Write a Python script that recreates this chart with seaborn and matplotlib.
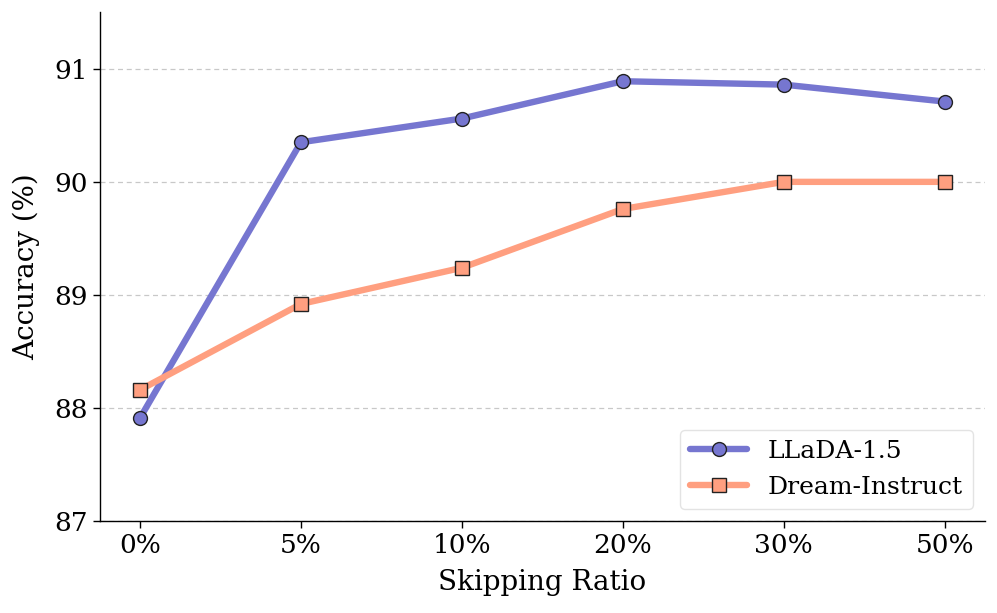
import matplotlib
matplotlib.use("Agg")
import matplotlib.pyplot as plt
import seaborn as sns
import pandas as pd

ratios = ["0%", "5%", "10%", "20%", "30%", "50%"]
llada = [87.91, 90.35, 90.56, 90.89, 90.86, 90.71]
dream = [88.16, 88.92, 89.24, 89.76, 90.00, 90.00]
series_names = ["LLaDA-1.5", "Dream-Instruct"]
yticks = [87, 88, 89, 90, 91]

sns.set_style("ticks")
plt.rcParams['font.family'] = ['DejaVu Serif']
plt.rcParams['text.color'] = 'black'
plt.rcParams['axes.labelcolor'] = 'black'
plt.rcParams['xtick.color'] = 'black'
plt.rcParams['ytick.color'] = 'black'

df = pd.DataFrame({
    "x": list(range(len(ratios))) * 2,
    "acc": llada + dream,
    "model": [series_names[0]] * len(ratios) + [series_names[1]] * len(ratios),
})

fig, ax = plt.subplots(figsize=(9.97, 6.13), dpi=100)
colors = {"LLaDA-1.5": "#7676D0", "Dream-Instruct": "#FF9F80"}
markers = {"LLaDA-1.5": "o", "Dream-Instruct": "s"}
sns.lineplot(data=df, x="x", y="acc", hue="model", style="model",
             palette=colors, markers=markers, dashes=False,
             linewidth=4.6, markersize=10, markeredgecolor="#222222",
             markeredgewidth=1.0, ax=ax, zorder=3)

ax.set_xticks(range(len(ratios)))
ax.set_xticklabels(ratios)
ax.set_xlim(-0.25, 5.25)
ax.set_ylim(87, 91.5)
ax.set_yticks(yticks)
ax.tick_params(axis="both", labelsize=19, length=5, width=1, color="black",
               direction="out", bottom=True, left=True)
ax.set_xlabel("Skipping Ratio", fontsize=20, labelpad=8)
ax.set_ylabel("Accuracy (%)", fontsize=20, labelpad=10)
ax.yaxis.grid(True, linestyle=(0, (4, 3)), color="#c8c8c8", linewidth=0.9)
ax.xaxis.grid(False)
sns.despine(ax=ax)
for s in ["left", "bottom"]:
    ax.spines[s].set_color("black")
    ax.spines[s].set_linewidth(1.0)
leg = ax.legend(loc="lower right", fontsize=18, frameon=True, title=None,
                fancybox=True, borderpad=0.4, handlelength=2.3)
leg.get_frame().set_edgecolor("#dddddd")

fig.subplots_adjust(left=0.1, right=0.988, top=0.98, bottom=0.15)
fig.savefig("out.png", dpi=100)
